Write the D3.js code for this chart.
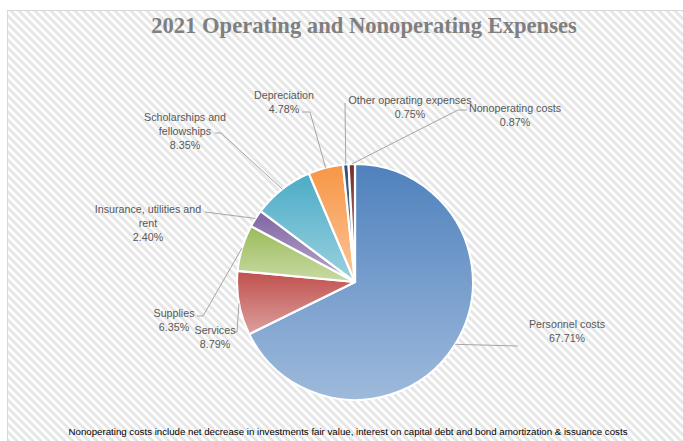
<!DOCTYPE html>
<html>
<head>
<meta charset="utf-8">
<script src="https://cdn.jsdelivr.net/npm/d3@7"></script>
<style>
  html, body { margin: 0; padding: 0; background: #fff; }
  svg { display: block; }
</style>
</head>
<body>
<svg id="chart" width="683" height="441"></svg>
<script>
// data
var categories = ["Personnel costs", "Services", "Supplies", "Insurance, utilities and rent",
                  "Scholarships and fellowships", "Depreciation", "Other operating expenses", "Nonoperating costs"];
var shares = [67.71, 8.79, 6.35, 2.40, 8.35, 4.78, 0.75, 0.87];
var pctLabels = ["67.71%", "8.79%", "6.35%", "2.40%", "8.35%", "4.78%", "0.75%", "0.87%"];
var colors = ["#4F81BD", "#C0504D", "#9BBB59", "#8064A2", "#4BACC6", "#F79646", "#2C4D75", "#772C2A"];
var titleText = "2021 Operating and Nonoperating Expenses";
var footText = "Nonoperating costs include net decrease in investments fair value, interest on capital debt and bond amortization & issuance costs";

// label placement (as Excel left them) : text lines, centre x, first line y, end/elbow of leader
var labelLayout = [
  {lines: ["Personnel costs"], x: 567, y: 324, end: [518, 346], elbow: null},
  {lines: ["Services"], x: 215, y: 330, end: [234, 332], elbow: [237, 332]},
  {lines: ["Supplies"], x: 174, y: 313, end: [197, 316], elbow: [203, 316]},
  {lines: ["Insurance, utilities and", "rent"], x: 148, y: 209, end: [205, 212], elbow: null},
  {lines: ["Scholarships and", "fellowships"], x: 185, y: 117, end: [215, 133], elbow: [221, 133]},
  {lines: ["Depreciation"], x: 284, y: 95, end: [302, 112], elbow: [310, 112]},
  {lines: ["Other operating expenses"], x: 410, y: 100, end: [345, 103], elbow: null},
  {lines: ["Nonoperating costs"], x: 515, y: 108, end: [467, 110], elbow: [458, 110]}
];

var svg = d3.select("#chart");
var defs = svg.append("defs");

// striped background like the Excel "wide downward diagonal" fill
var pat = defs.append("pattern")
  .attr("id", "stripes")
  .attr("patternUnits", "userSpaceOnUse")
  .attr("width", 8).attr("height", 8);
pat.append("rect").attr("width", 8).attr("height", 8).attr("fill", "#ffffff");
pat.append("path")
  .attr("d", "M-1,-1 L9,9 M-1,7 L1,9 M7,-1 L9,1")
  .attr("stroke", "#e6e6e6")
  .attr("stroke-width", 3);

svg.append("rect")
  .attr("x", 7.5).attr("y", 10.5)
  .attr("width", 700).attr("height", 460)
  .attr("fill", "url(#stripes)")
  .attr("stroke", "#d9d9d9")
  .attr("stroke-width", 1);

// title
svg.append("text")
  .attr("x", 364).attr("y", 33)
  .attr("text-anchor", "middle")
  .attr("font-family", "'Liberation Serif', serif")
  .attr("font-weight", "bold")
  .attr("font-size", 22.6)
  .attr("fill", "#7f7f7f")
  .text(titleText);

// pie
var cx = 355, cy = 282, radius = 118;
var data = categories.map(function(c, i) {
  return {name: c, value: shares[i], pct: pctLabels[i], color: colors[i], layout: labelLayout[i]};
});
var pie = d3.pie().sort(null).value(function(d) { return d.value; });
var arc = d3.arc().innerRadius(0).outerRadius(radius);
var arcs = pie(data);

arcs.forEach(function(a, i) {
  var g = defs.append("linearGradient")
    .attr("id", "grad" + i)
    .attr("x1", 0).attr("y1", 0).attr("x2", 0).attr("y2", 1);
  g.append("stop").attr("offset", "0%").attr("stop-color", a.data.color);
  g.append("stop").attr("offset", "100%").attr("stop-color", d3.interpolateRgb(a.data.color, "#ffffff")(0.45));
});

var pieG = svg.append("g").attr("transform", "translate(" + cx + "," + cy + ")");
pieG.selectAll("path.slice")
  .data(arcs)
  .enter().append("path")
  .attr("class", "slice")
  .attr("d", arc)
  .attr("fill", function(d, i) { return "url(#grad" + i + ")"; })
  .attr("stroke", "#ffffff")
  .attr("stroke-width", 2.2)
  .attr("stroke-linejoin", "round");

// leader lines
var line = d3.line();
arcs.forEach(function(a) {
  var mid = (a.startAngle + a.endAngle) / 2;
  var anchor = [cx + radius * Math.sin(mid), cy - radius * Math.cos(mid)];
  var L = a.data.layout;
  var pts = [L.end];
  if (L.elbow) pts.push(L.elbow);
  pts.push(anchor);
  svg.append("path")
    .attr("d", line(pts))
    .attr("fill", "none")
    .attr("stroke", "#a6a6a6")
    .attr("stroke-width", 1);
});

// labels
var lineH = 14.3;
arcs.forEach(function(a) {
  var L = a.data.layout;
  var t = svg.append("text")
    .attr("text-anchor", "middle")
    .attr("font-family", "'Liberation Sans', Arial, sans-serif")
    .attr("font-size", 10.7)
    .attr("fill", "#595959");
  L.lines.concat([a.data.pct]).forEach(function(s, k) {
    t.append("tspan")
      .attr("x", L.x)
      .attr("y", L.y + k * lineH)
      .attr("dy", "0.35em")
      .text(s);
  });
});

// footnote
svg.append("text")
  .attr("x", 348).attr("y", 432)
  .attr("dy", "0.35em")
  .attr("text-anchor", "middle")
  .attr("font-family", "'Liberation Sans', Arial, sans-serif")
  .attr("font-size", 9.7)
  .attr("fill", "#000000")
  .text(footText);
</script>
</body>
</html>
